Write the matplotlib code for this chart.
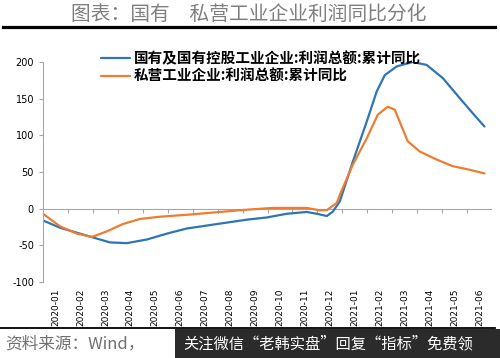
import numpy as np
import matplotlib
matplotlib.use('Agg')
import matplotlib.pyplot as plt
from matplotlib.lines import Line2D
from matplotlib.patches import Rectangle

plt.rcParams['font.family'] = ['Noto Sans CJK SC', 'DejaVu Sans']
plt.rcParams['axes.unicode_minus'] = False

# Category labels (monthly)
months = ['2020-01', '2020-02', '2020-03', '2020-04', '2020-05', '2020-06',
          '2020-07', '2020-08', '2020-09', '2020-10', '2020-11', '2020-12',
          '2021-01', '2021-02', '2021-03', '2021-04', '2021-05', '2021-06']

# State-owned (x in month index units)
soe_x = [-0.5, 0.18, 1.38, 2.18, 2.86, 3.67, 4.47, 5.27, 6.07, 6.87, 7.67, 8.47,
         9.27, 10.07, 10.48, 10.88, 11.12, 11.4, 11.92, 12.48, 12.88, 13.2,
         13.68, 14.32, 14.88, 15.53, 16.2, 16.73, 17.2]
soe_y = [-16, -26, -38, -46, -47, -42, -34, -27, -23, -19, -15, -12,
         -7, -4.5, -7, -10, -4, 10, 64, 119, 160, 182,
         194, 200, 196, 178, 151, 130, 112]

# Private
pri_x = [-0.5, 0.18, 0.86, 1.46, 2.06, 2.7, 3.39, 4.19, 5.39, 6.59, 7.67, 8.71,
         10.07, 10.6, 10.88, 11.28, 11.4, 11.92, 12.48, 12.92, 13.32, 13.6,
         13.88, 14.12, 14.6, 15.28, 15.92, 16.61, 17.2]
pri_y = [-7, -24, -34, -38.5, -31, -21, -14, -11, -8, -4.5, -1.4, 1,
         1, -2.3, -2, 8, 19, 60, 96, 128, 139, 135,
         112, 92, 78, 67, 58, 53, 48]

soe_label = '国有及国有控股工业企业:利润总额:累计同比'
pri_label = '私营工业企业:利润总额:累计同比'

fig = plt.figure(figsize=(5, 3.58), dpi=100)
ax = fig.add_axes([43 / 500, 1 - 282 / 358, (492 - 43) / 500, 220 / 358])

l1, = ax.plot(soe_x, soe_y, color='#2E75B6', linewidth=1.6,
              solid_capstyle='round', solid_joinstyle='round')
l2, = ax.plot(pri_x, pri_y, color='#ED7D31', linewidth=1.6,
              solid_capstyle='round', solid_joinstyle='round')

ax.set_xlim(-0.5, 17.5)
ax.set_ylim(-100, 200)
ax.set_yticks([-100, -50, 0, 50, 100, 150, 200])

# zero line with small category ticks
ax.axhline(0, color='#a6a6a6', linewidth=0.8, zorder=1)
ax.vlines(np.arange(0.5, 17, 1), -6, 0, color='#a6a6a6', linewidth=0.8, zorder=1)

ax.set_xticks(range(len(months)))
ax.set_xticklabels(months, rotation=90, fontsize=6.5, family='DejaVu Sans')
ax.tick_params(axis='x', length=0, pad=4.5)
ax.tick_params(axis='y', labelsize=7, length=3, color='#a6a6a6', direction='out')
for lab in ax.get_yticklabels():
    lab.set_family('DejaVu Sans')

for s in ['top', 'right', 'bottom']:
    ax.spines[s].set_visible(False)
ax.spines['left'].set_color('#a6a6a6')
ax.spines['left'].set_linewidth(0.8)

fig.legend([l1, l2], [soe_label, pri_label], loc='upper left',
           bbox_to_anchor=(94 / 500, 1 - 43 / 358), frameon=False,
           prop={'size': 10.5, 'weight': 'bold'}, borderpad=0,
           handlelength=2.0, handletextpad=0.25, labelspacing=0.1)

# title and rules
fig.text(0.497, 1 - 14 / 358, '图表：国有\u3000私营工业企业利润同比分化', ha='center', va='center',
         fontsize=14.2, color='#7f7f7f')
fig.add_artist(Line2D([0.006, 0.99], [1 - 27 / 358] * 2, color='black', linewidth=2.3))
fig.add_artist(Line2D([0.0, 0.99], [1 - 328 / 358] * 2, color='black', linewidth=1.3))

# source line and overlay box
fig.text(5 / 500, 1 - 344 / 358, '资料来源：Wind，', ha='left', va='center',
         fontsize=12, color='#707070', style='italic')
fig.add_artist(Rectangle((175 / 500, 0), 325 / 500, 29 / 358, transform=fig.transFigure,
                         facecolor='#2b2b2b', edgecolor='none', zorder=5))
fig.text(183 / 500, 1 - 344 / 358, '关注微信“老韩实盘”回复“指标”免费领', ha='left', va='center',
         fontsize=11, color='white', zorder=6)

fig.savefig('out.png', dpi=100)
